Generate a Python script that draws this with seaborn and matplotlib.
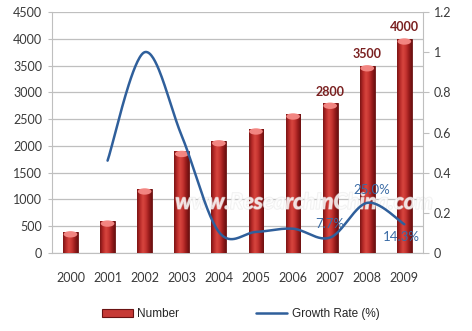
import numpy as np
import pandas as pd
import matplotlib
matplotlib.use("Agg")
import matplotlib.pyplot as plt
import seaborn as sns
from matplotlib.colors import LinearSegmentedColormap
from matplotlib.patches import Patch, Ellipse
from matplotlib.lines import Line2D
import matplotlib.patheffects as pe

years = ["2000", "2001", "2002", "2003", "2004", "2005", "2006", "2007", "2008", "2009"]
number = [400, 600, 1200, 1900, 2100, 2320, 2600, 2800, 3500, 4000]
growth = [np.nan, 0.46, 1.0, 0.583, 0.105, 0.105, 0.121, 0.077, 0.25, 0.143]
number_labels = {"2007": "2800", "2008": "3500", "2009": "4000"}
growth_labels = {"2007": "7.7%", "2008": "25.0%", "2009": "14.3%"}
left_ticks = [0, 500, 1000, 1500, 2000, 2500, 3000, 3500, 4000, 4500]
right_ticks = [0, 0.2, 0.4, 0.6, 0.8, 1.0, 1.2]
right_tick_labels = ["0", "0.2", "0.4", "0.6", "0.8", "1", "1.2"]

sns.set_style("white")
plt.rcParams["font.family"] = ["Lato", "DejaVu Sans"]

df = pd.DataFrame({"year": years, "number": number, "growth": growth})

fig = plt.figure(figsize=(4.72, 3.31), dpi=100)
ax = fig.add_axes([0.110, 0.2356, 0.786, 0.7281])

grid_c = "#BFBFBF"
text_c = "#3A3A3A"

sns.barplot(data=df, x="year", y="number", color="#C0302F", width=0.4,
            edgecolor="#6A1212", linewidth=0.6, ax=ax, zorder=3)
ax.set_xlim(-0.5, 9.5)
ax.set_ylim(0, 4500)

# cylinder-like shading on each bar
shade = LinearSegmentedColormap.from_list(
    "barshade", ["#7A1414", "#B82A28", "#D8463F", "#C53430", "#9A1C1C", "#6A1010"])
grad = np.linspace(0, 1, 64).reshape(1, -1)
for p in list(ax.patches):
    x0, y0 = p.get_x(), p.get_y()
    w, h = p.get_width(), p.get_height()
    im = ax.imshow(grad, cmap=shade, aspect="auto", extent=[x0, x0 + w, y0, y0 + h],
                   zorder=3.5, interpolation="bicubic")
    im.set_clip_path(p)
    cap = Ellipse((x0 + w / 2, y0 + h - 50), w * 0.92, 120, facecolor="#F58A86",
                  edgecolor="none", zorder=3.6, alpha=0.95)
    ax.add_patch(cap)
ax.set_xlim(-0.5, 9.5)
ax.set_ylim(0, 4500)

ax.set_yticks(left_ticks)
ax.yaxis.grid(True, color=grid_c, linewidth=0.9)
ax.set_axisbelow(True)
ax.set_xlabel("")
ax.set_ylabel("")
for s in ["top", "right"]:
    ax.spines[s].set_visible(False)
ax.spines["left"].set_color(grid_c)
ax.spines["bottom"].set_color(grid_c)
ax.tick_params(axis="y", length=3, color=grid_c, labelsize=9, labelcolor=text_c, pad=4)
ax.tick_params(axis="x", which="major", length=0, labelsize=9, labelcolor=text_c, pad=14)
ax.set_xticks(np.arange(-0.5, 10, 1), minor=True)
ax.tick_params(axis="x", which="minor", length=4, color=grid_c)

for i, y in enumerate(years):
    if y in number_labels:
        ax.annotate(number_labels[y], (i, number[i]), xytext=(0, 4),
                    textcoords="offset points", ha="center", va="bottom",
                    fontsize=9, fontweight="bold", color="#7A2020", zorder=6)

# faint site watermark
ax.text(0.68, 0.21, "www.ResearchInChina.com", transform=ax.transAxes, ha="center",
        va="center", fontsize=16, fontstyle="italic", fontweight="bold",
        color="white", alpha=0.6, zorder=4.5,
        path_effects=[pe.withStroke(linewidth=1.0, foreground="#E6E6E6")])

# secondary axis: growth rate drawn as a smoothed line
ax2 = ax.twinx()
ax2.set_ylim(0, 1.2)
ax2.set_xlim(-0.5, 9.5)


def smooth(xs, ys, n=40):
    pts = np.column_stack([xs, ys])
    out = []
    for k in range(len(pts) - 1):
        p0 = pts[k - 1] if k > 0 else pts[k]
        p1, p2 = pts[k], pts[k + 1]
        p3 = pts[k + 2] if k + 2 < len(pts) else pts[k + 1]
        c1 = p1 + (p2 - p0) / 6
        c2 = p2 - (p3 - p1) / 6
        t = np.linspace(0, 1, n)[:, None]
        seg = ((1 - t) ** 3) * p1 + 3 * ((1 - t) ** 2) * t * c1 + 3 * (1 - t) * t ** 2 * c2 + t ** 3 * p2
        out.append(seg if k == 0 else seg[1:])
    return np.vstack(out)


valid = df["growth"].notna().to_numpy()
xi = np.arange(len(years))[valid].astype(float)
curve = smooth(xi, df["growth"].to_numpy()[valid])
curve_df = pd.DataFrame({"x": curve[:, 0], "y": curve[:, 1]})
sns.lineplot(data=curve_df, x="x", y="y", sort=False, color="#2F5F9B",
             linewidth=1.8, ax=ax2, zorder=5)
ax2.set_xlabel("")
ax2.set_ylabel("")

label_offsets = {"2007": (0, 9.5), "2008": (3, 9.5), "2009": (-2, -9.5)}
for i, y in enumerate(years):
    if y in growth_labels:
        dx, dy = label_offsets[y]
        ax2.annotate(growth_labels[y], (i, growth[i]), xytext=(dx, dy),
                     textcoords="offset points", ha="center", va="center",
                     fontsize=9.5, color="#3A6BA5", zorder=6)

ax2.set_yticks(right_ticks)
ax2.set_yticklabels(right_tick_labels)
ax2.tick_params(axis="y", length=4, color=grid_c, labelsize=9, labelcolor=text_c, pad=4)
for s in ["top", "left", "bottom"]:
    ax2.spines[s].set_visible(False)
ax2.spines["right"].set_color(grid_c)
ax2.grid(False)

handles = [Patch(facecolor="#C63A36", edgecolor="#6A1212", linewidth=0.8),
           Line2D([0], [0], color="#2F5F9B", linewidth=1.8)]
fig.legend(handles, ["Number", "Growth Rate (%)"], loc="lower center",
           bbox_to_anchor=(0.51, 0.0), ncol=2, frameon=False,
           prop={"family": "Liberation Sans", "size": 8.5},
           handlelength=2.6, handleheight=0.7, columnspacing=6.5, handletextpad=0.4)

fig.savefig("out.png", dpi=100)
